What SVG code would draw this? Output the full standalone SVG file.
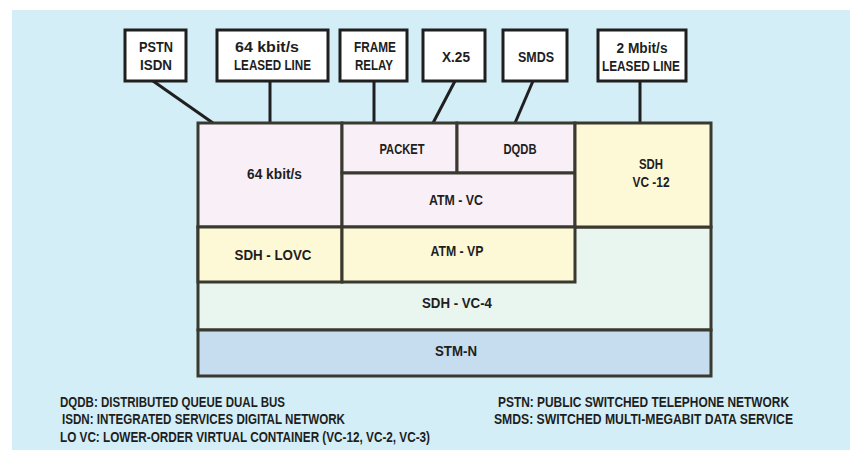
<svg xmlns="http://www.w3.org/2000/svg" width="853" height="450" viewBox="0 0 853 450">
<style>
text{font-family:"Liberation Sans",Arial,sans-serif;font-weight:bold;font-size:15px;fill:#1e1e1e;text-anchor:middle}
.lg{text-anchor:start;font-size:14px}
.tb{fill:#fff;stroke:#1f1f1f;stroke-width:3}
.cell{stroke:#3a3930;stroke-width:3}
.pink{fill:#f9eff6}
.yel{fill:#fdf9d6}
.grn{fill:#e9f5ef}
.blu{fill:#c6dcef}
.con{stroke:#1f1f1f;stroke-width:3;fill:none}
</style>
<rect x="0" y="0" width="853" height="450" fill="#ffffff"/>
<rect x="12" y="10" width="838" height="440" fill="#d3eef7"/>
<g id="connectors">
<line class="con" x1="153" y1="81" x2="213" y2="123"/>
<line class="con" x1="270" y1="81" x2="270" y2="123"/>
<line class="con" x1="374" y1="81" x2="374" y2="123"/>
<line class="con" x1="455" y1="81" x2="433" y2="123"/>
<line class="con" x1="533" y1="81" x2="515" y2="123"/>
<line class="con" x1="640" y1="81" x2="640" y2="123"/>
</g>
<g id="pstn"><rect class="tb" x="125" y="30" width="61" height="51"/><text x="156" y="52" textLength="34" lengthAdjust="spacingAndGlyphs">PSTN</text><text x="156" y="70" textLength="32" lengthAdjust="spacingAndGlyphs">ISDN</text></g>
<g id="leased64"><rect class="tb" x="217" y="30" width="111" height="51"/><text x="267" y="52" textLength="64" lengthAdjust="spacingAndGlyphs">64 kbit/s</text><text x="272.5" y="70" textLength="77" lengthAdjust="spacingAndGlyphs">LEASED LINE</text></g>
<g id="framerelay"><rect class="tb" x="340" y="30" width="67" height="51"/><text x="375" y="52" textLength="42" lengthAdjust="spacingAndGlyphs">FRAME</text><text x="374" y="70" textLength="38" lengthAdjust="spacingAndGlyphs">RELAY</text></g>
<g id="x25"><rect class="tb" x="423" y="30" width="62" height="51"/><text x="456" y="62" textLength="28" lengthAdjust="spacingAndGlyphs">X.25</text></g>
<g id="smds"><rect class="tb" x="503" y="30" width="64" height="51"/><text x="536" y="62" textLength="36" lengthAdjust="spacingAndGlyphs">SMDS</text></g>
<g id="leased2m"><rect class="tb" x="598" y="30" width="88" height="51"/><text x="642" y="53" textLength="51" lengthAdjust="spacingAndGlyphs">2 Mbit/s</text><text x="641" y="71" textLength="78" lengthAdjust="spacingAndGlyphs">LEASED LINE</text></g>
<g id="sdhvc4"><rect class="cell grn" x="198" y="227" width="513" height="103"/><text x="457" y="308" textLength="70" lengthAdjust="spacingAndGlyphs">SDH -  VC-4</text></g>
<g id="stmn"><rect class="cell blu" x="198" y="330" width="513" height="46"/><text x="456" y="356" textLength="42" lengthAdjust="spacingAndGlyphs">STM-N</text></g>
<g id="kbit64"><rect class="cell pink" x="198" y="123" width="144" height="104"/><text x="274.5" y="179" textLength="55" lengthAdjust="spacingAndGlyphs">64 kbit/s</text></g>
<g id="packet"><rect class="cell pink" x="342" y="123" width="115" height="50"/><text x="402" y="154" textLength="45" lengthAdjust="spacingAndGlyphs">PACKET</text></g>
<g id="dqdb"><rect class="cell pink" x="457" y="123" width="118" height="50"/><text x="520" y="154" textLength="33" lengthAdjust="spacingAndGlyphs">DQDB</text></g>
<g id="atmvc"><rect class="cell pink" x="342" y="173" width="233" height="54"/><text x="456" y="205" textLength="54" lengthAdjust="spacingAndGlyphs">ATM - VC</text></g>
<g id="sdhvc12"><rect class="cell yel" x="575" y="123" width="136" height="104"/><text x="651" y="169" textLength="24" lengthAdjust="spacingAndGlyphs">SDH</text><text x="651" y="187" textLength="37" lengthAdjust="spacingAndGlyphs">VC -12</text></g>
<g id="sdhlovc"><rect class="cell yel" x="198" y="227" width="144" height="55"/><text x="273" y="260" textLength="77" lengthAdjust="spacingAndGlyphs">SDH -  LOVC</text></g>
<g id="atmvp"><rect class="cell yel" x="342" y="227" width="233" height="55"/><text x="457" y="256" textLength="53" lengthAdjust="spacingAndGlyphs">ATM - VP</text></g>
<g id="legend">
<text class="lg" x="60" y="407" textLength="225" lengthAdjust="spacingAndGlyphs">DQDB: DISTRIBUTED QUEUE DUAL BUS</text>
<text class="lg" x="62" y="424" textLength="283" lengthAdjust="spacingAndGlyphs">ISDN: INTEGRATED SERVICES DIGITAL NETWORK</text>
<text class="lg" x="60" y="442" textLength="370" lengthAdjust="spacingAndGlyphs">LO VC: LOWER-ORDER VIRTUAL CONTAINER (VC-12, VC-2, VC-3)</text>
<text class="lg" x="498" y="407" textLength="291" lengthAdjust="spacingAndGlyphs">PSTN:  PUBLIC SWITCHED TELEPHONE NETWORK</text>
<text class="lg" x="494" y="424" textLength="299" lengthAdjust="spacingAndGlyphs">SMDS:  SWITCHED MULTI-MEGABIT DATA SERVICE</text>
</g>
</svg>
